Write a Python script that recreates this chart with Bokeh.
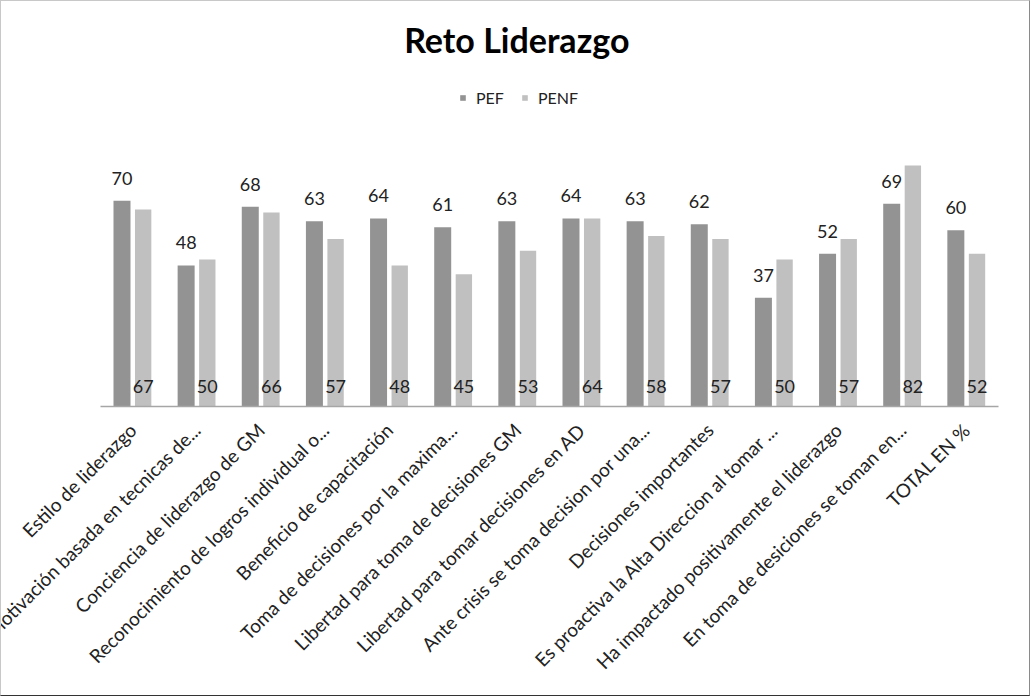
import math
from bokeh.plotting import figure
from bokeh.models import ColumnDataSource, FactorRange, Label, LabelSet, Legend, LegendItem
from bokeh.transform import dodge
from bokeh.core.properties import value
from bokeh.embed import file_html
from bokeh.resources import INLINE

categories = [
    "Estilo de liderazgo",
    "Motivación basada en tecnicas de...",
    "Conciencia de liderazgo de GM",
    "Reconocimiento de logros individual o...",
    "Beneficio de capacitación",
    "Toma de decisiones por la maxima...",
    "Libertad para toma de decisiones GM",
    "Libertad para tomar decisiones en AD",
    "Ante crisis se toma decision por una...",
    "Decisiones importantes",
    "Es proactiva la Alta Direccion al tomar ...",
    "Ha impactado positivamente el liderazgo",
    "En toma de desiciones se toman en...",
    "TOTAL EN %",
]
pef = [70, 48, 68, 63, 64, 61, 63, 64, 63, 62, 37, 52, 69, 60]
penf = [67, 50, 66, 57, 48, 45, 53, 64, 58, 57, 50, 57, 82, 52]

PEF_COLOR = "#939393"
PENF_COLOR = "#c0c0c0"
TEXT_COLOR = "#222222"
FONT = "Lato"

src = ColumnDataSource(dict(
    cat=categories, pef=pef, penf=penf,
    pef_txt=[str(v) for v in pef], penf_txt=[str(v) for v in penf],
    zero=[0] * len(categories),
))

p = figure(
    x_range=FactorRange(*categories, range_padding=0),
    y_range=(0, 137.8),
    width=1030, height=696,
    output_backend="svg", toolbar_location=None,
    min_border_left=99, min_border_right=33, min_border_top=0, min_border_bottom=291,
)
p.styles = {"border-left": "1px solid #c8c8c8", "border-top": "1px solid #c8c8c8",
            "border-right": "1px solid #8a8a8a", "border-bottom": "1px solid #333333"}
p.outline_line_color = None
p.xgrid.visible = False
p.ygrid.visible = False
p.yaxis.visible = False

r1 = p.vbar(x=dodge("cat", -0.165, range=p.x_range), top="pef", width=0.265,
            source=src, fill_color=PEF_COLOR, line_color=None)
r2 = p.vbar(x=dodge("cat", 0.165, range=p.x_range), top="penf", width=0.255,
            source=src, fill_color=PENF_COLOR, line_color=None)

lab1 = LabelSet(x=dodge("cat", -0.165, range=p.x_range), y="pef", text="pef_txt", source=src,
                y_offset=16, text_align="center", text_baseline="alphabetic",
                text_font=value(FONT), text_font_size="18px", text_color=TEXT_COLOR)
lab2 = LabelSet(x=dodge("cat", 0.165, range=p.x_range), y="zero", text="penf_txt", source=src,
                y_offset=14, text_align="center", text_baseline="alphabetic",
                text_font=value(FONT), text_font_size="18px", text_color=TEXT_COLOR)
p.add_layout(lab1)
p.add_layout(lab2)

ax = p.xaxis[0]
ax.major_label_orientation = math.pi / 4
ax.major_label_text_font = FONT
ax.major_label_text_font_size = "19px"
ax.major_label_text_color = TEXT_COLOR
ax.major_label_standoff = 14
ax.major_tick_line_color = None
ax.minor_tick_line_color = None
ax.axis_line_color = "#a6a6a6"
ax.axis_line_width = 1.5

title = Label(x=6.49, y=125, text="Reto Liderazgo", text_align="center",
              text_baseline="alphabetic", text_font=FONT, text_font_size="34px",
              text_font_style="bold", text_color="#000000")
p.add_layout(title)

legend = Legend(items=[LegendItem(label="PEF", renderers=[r1]),
                       LegendItem(label="PENF", renderers=[r2])],
                orientation="horizontal", location=(359, 299),
                glyph_width=7, glyph_height=7, label_standoff=10, spacing=17,
                padding=0, margin=0, border_line_color=None, background_fill_alpha=0,
                label_text_font=FONT, label_text_font_size="16px", label_text_color=TEXT_COLOR,
                label_height=18)
p.add_layout(legend, "center")

open("out.html", "w").write(file_html(p, INLINE))
